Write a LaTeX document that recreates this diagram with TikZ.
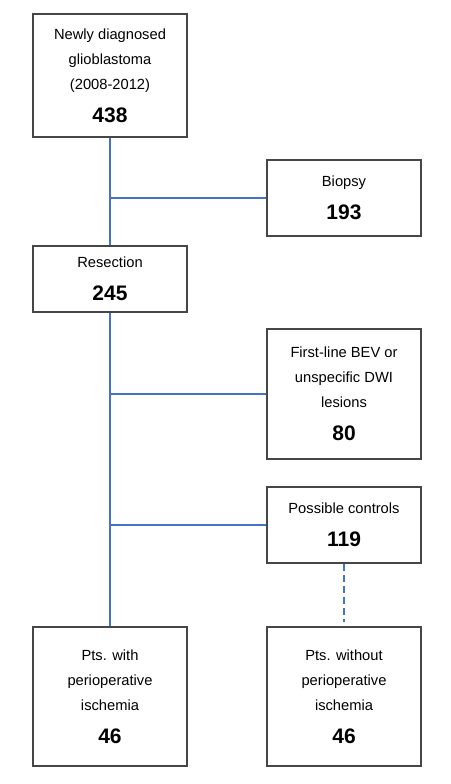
\documentclass[tikz,border=0pt]{standalone}
\usepackage{fontspec}
\setmainfont{Liberation Sans}
\definecolor{linkblue}{RGB}{68,114,196}
\definecolor{boxgray}{RGB}{70,70,70}
\newcommand{\num}[1]{{\fontsize{21}{25}\selectfont\bfseries #1}}
\begin{document}
\begin{tikzpicture}[x=1pt, y=-1pt,
        stage/.style={draw=boxgray, line width=2pt, inner sep=0pt, align=center,
            minimum width=154pt, font=\fontsize{14.7}{25}\selectfont},
        link/.style={draw=linkblue, line width=2pt}]
        \useasboundingbox (0, 0) rectangle (450, 784);
        \node[stage, minimum height=123pt] (newly) at (110, 75.5)
            {Newly diagnosed\\glioblastoma\\(2008-2012)\\[8pt]\num{438}};
        \node[stage, minimum height=76pt] (biopsy) at (344, 198) {Biopsy\\[8pt]\num{193}};
        \node[stage, minimum height=66pt] (resection) at (110, 279) {Resection\\[8pt]\num{245}};
        \node[stage, minimum height=130pt] (firstline) at (344, 394)
            {First-line BEV or\\unspecific DWI\\lesions\\[8pt]\num{80}};
        \node[stage, minimum height=76pt] (controls) at (344, 525) {Possible controls\\[8pt]\num{119}};
        \node[stage, minimum height=139pt] (with) at (110, 696.5)
            {Pts. with\\perioperative\\ischemia\\[8pt]\num{46}};
        \node[stage, minimum height=139pt] (without) at (344, 696.5)
            {Pts. without\\perioperative\\ischemia\\[8pt]\num{46}};
        \coordinate (j1) at (110, 198);
        \coordinate (j2) at (110, 394);
        \coordinate (j3) at (110, 525);
        \draw[link] (newly) -- (resection);
        \draw[link] (resection) -- (with);
        \draw[link] (j1) -- (biopsy);
        \draw[link] (j2) -- (firstline);
        \draw[link] (j3) -- (controls);
        \draw[link, dash pattern=on 7pt off 4pt, shorten >=4pt] (controls) -- (without);
    \end{tikzpicture}
\end{document}
